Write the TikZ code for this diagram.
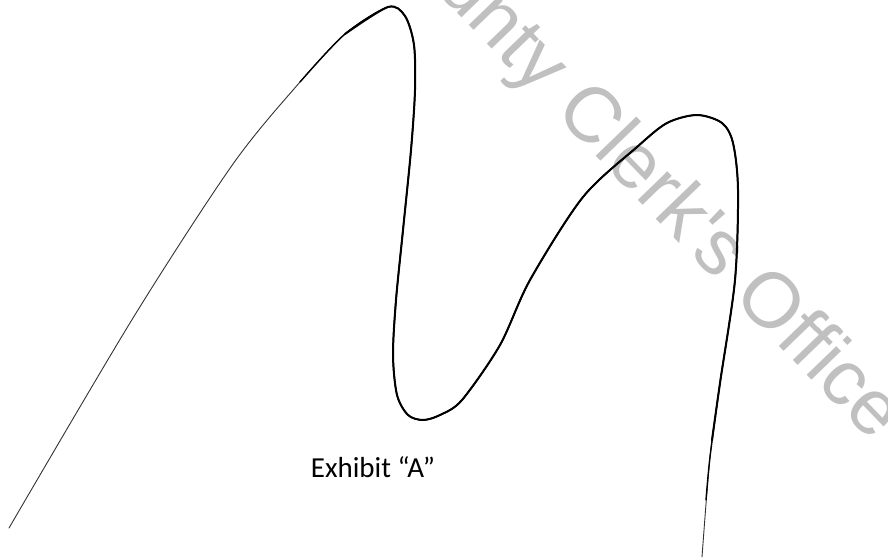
\documentclass[tikz,border=0pt]{standalone}
\usepackage{fontspec}
\setmainfont{Carlito}
\newfontfamily\stampfont{Liberation Sans}
\usepackage{xcolor}
\definecolor{stampgray}{RGB}{192,192,192}

\tikzset{outline/.style={black, line cap=round, line join=round}}

\begin{document}
\begin{tikzpicture}[x=1pt,y=-1pt]

    \useasboundingbox (0,0) rectangle (888,557);
    \fill[white] (0,0) rectangle (888,557);

    % watermark across the page
    \begin{scope}
        \clip (0,0) rectangle (888,557);
        \node[stampgray, rotate=-46] (stamp) at (634,167)
            {\stampfont\fontsize{78}{80}\selectfont County Clerk's Office};
    \end{scope}

    % the outline, faint where the scan is faint
    \draw[outline, black!80, line width=0.9pt]
        plot[smooth, tension=0.5] coordinates {
            (9,528) (133,318) (233,164) (300,82) (345,34) (388,7)
            (405,16) (414,45) (415,90) (411,150) (403,230) (396,300)
            (393,355) (397,395) (408,415) (423,420) (440,415) (462,400)
            (500,345) (530,280) (583,197) (637,147) (667,123) (697,115)
            (722,123) (733,143) (738,190) (735,280) (720,383) (710,457)
            (702,557)};
    \draw[outline, line width=1.4pt]
        plot[smooth, tension=0.5] coordinates {
            (300,82) (345,34) (388,7) (405,16) (414,45) (415,90)
            (411,150) (403,230) (396,300) (393,355) (397,395) (408,415)
            (423,420) (440,415) (462,400) (500,345) (530,280) (583,197)
            (637,147) (667,123) (697,115) (722,123) (733,143) (738,190)
            (735,280) (720,383) (710,457) (706,500)};
    \draw[outline, line width=2pt]
        plot[smooth, tension=0.5] coordinates {
            (345,34) (388,7) (405,16) (414,45) (415,90) (411,150)
            (403,230) (396,300) (393,355) (397,395) (408,415) (423,420)
            (440,415) (462,400) (500,345) (530,280) (583,197) (637,147)
            (667,123) (697,115) (722,123) (733,143) (738,190) (735,280)
            (720,383) (712,440)};

    \node (label) at (373,467) {\fontsize{29}{31}\selectfont Exhibit “A”};

\end{tikzpicture}
\end{document}
